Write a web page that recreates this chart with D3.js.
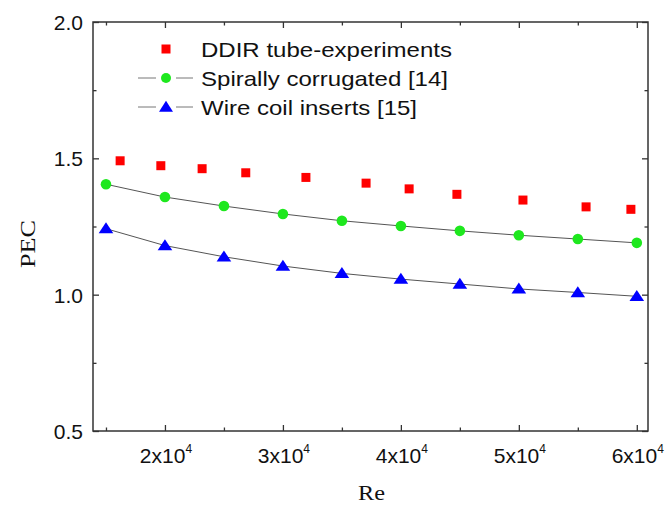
<!DOCTYPE html>
<html>
<head>
<meta charset="utf-8">
<script src="https://cdn.jsdelivr.net/npm/d3@7"></script>
<style>
  body { margin: 0; background: #fff; }
  svg { display: block; }
</style>
</head>
<body>
<svg id="chart" width="666" height="505"></svg>
<script>
// data
const reGrid = [15000, 20000, 25000, 30000, 35000, 40000, 45000, 50000, 55000, 60000];
const spirallyPEC = [1.405, 1.358, 1.325, 1.296, 1.271, 1.252, 1.234, 1.218, 1.204, 1.190];
const wirePEC = [1.242, 1.180, 1.139, 1.105, 1.078, 1.057, 1.039, 1.021, 1.008, 0.994];
const ddirRe = [16200, 19650, 23150, 26850, 31950, 37050, 40700, 44750, 50350, 55700, 59500];
const ddirPEC = [1.491, 1.473, 1.462, 1.447, 1.430, 1.409, 1.388, 1.368, 1.347, 1.322, 1.313];
const xMajor = [20000, 30000, 40000, 50000, 60000];
const xMinor = [15000, 25000, 35000, 45000, 55000];
const yMajor = [0.5, 1.0, 1.5, 2.0];
const yMinor = [0.75, 1.25, 1.75];
const legendLabels = ["DDIR tube-experiments", "Spirally corrugated [14]", "Wire coil inserts [15]"];
const legendWidths = [251, 247, 216];

const svg = d3.select("#chart");
const W = 666, H = 505;
const margin = {top: 22, right: 18, bottom: 74, left: 93};

const x = d3.scaleLinear([13900, 60950], [margin.left, W - margin.right]);
const y = d3.scaleLinear([0.5, 2.0], [H - margin.bottom, margin.top]);

const axisColor = "#333";
const sans = "'Liberation Sans', Arial, sans-serif";
const serif = "'Liberation Serif', 'Times New Roman', serif";

// frame
svg.append("rect")
    .attr("x", x.range()[0]).attr("y", y.range()[1])
    .attr("width", x.range()[1] - x.range()[0])
    .attr("height", y.range()[0] - y.range()[1])
    .attr("fill", "none").attr("stroke", axisColor).attr("stroke-width", 1.5);

function ticks(axis, vals, size, transform) {
  const g = svg.append("g").attr("transform", transform)
      .call(axis.tickValues(vals).tickSizeInner(-size).tickSizeOuter(0).tickFormat(""));
  g.select(".domain").remove();
  g.selectAll(".tick line").attr("stroke", axisColor).attr("stroke-width", 1.3);
}
const yb = y.range()[0], yt = y.range()[1], xl = x.range()[0], xr = x.range()[1];
ticks(d3.axisBottom(x), xMajor, 6, `translate(0,${yb})`);
ticks(d3.axisBottom(x), xMinor, 3.5, `translate(0,${yb})`);
ticks(d3.axisTop(x), xMajor, 6, `translate(0,${yt})`);
ticks(d3.axisTop(x), xMinor, 3.5, `translate(0,${yt})`);
ticks(d3.axisLeft(y), yMajor, 6, `translate(${xl},0)`);
ticks(d3.axisLeft(y), yMinor, 3.5, `translate(${xl},0)`);
ticks(d3.axisRight(y), yMajor, 6, `translate(${xr},0)`);
ticks(d3.axisRight(y), yMinor, 3.5, `translate(${xr},0)`);

// tick labels
svg.append("g").selectAll("text").data(yMajor).join("text")
    .attr("x", xl - 10).attr("y", d => y(d) + 8)
    .attr("text-anchor", "end")
    .attr("font-family", sans).attr("font-size", 21).attr("fill", "#111")
    .text(d => d.toFixed(1));
xMajor.forEach(v => {
  const t = svg.append("text")
      .attr("x", x(v) + 1).attr("y", yb + 32)
      .attr("text-anchor", "middle")
      .attr("font-family", sans).attr("font-size", 21).attr("fill", "#111");
  t.append("tspan").text(`${v / 10000}x10`);
  t.append("tspan").attr("dy", -10).attr("font-size", 12).text("4");
});

// axis titles
svg.append("text")
    .attr("transform", `translate(35,244) rotate(-90)`)
    .attr("text-anchor", "middle")
    .attr("font-family", serif).attr("font-size", 22).attr("fill", "#111")
    .attr("textLength", 48).attr("lengthAdjust", "spacingAndGlyphs")
    .text("PEC");
svg.append("text")
    .attr("x", 358).attr("y", 500)
    .attr("font-family", serif).attr("font-size", 20).attr("fill", "#111")
    .attr("textLength", 27).attr("lengthAdjust", "spacingAndGlyphs")
    .text("Re");

// lines
const line = d3.line().x((d, i) => x(reGrid[i])).y(d => y(d));
[spirallyPEC, wirePEC].forEach(s => {
  svg.append("path").attr("d", line(s))
    .attr("fill", "none").attr("stroke", "#555").attr("stroke-width", 1);
});

const red = "#ff0000", green = "#1ee81e", blue = "#0000ff";
const tri = d3.symbol(d3.symbolTriangle, 70);

svg.append("g").selectAll("rect").data(ddirPEC).join("rect")
    .attr("x", (d, i) => x(ddirRe[i]) - 4.5).attr("y", d => y(d) - 4.5)
    .attr("width", 9).attr("height", 9).attr("fill", red);
svg.append("g").selectAll("circle").data(spirallyPEC).join("circle")
    .attr("cx", (d, i) => x(reGrid[i])).attr("cy", d => y(d))
    .attr("r", 5.3).attr("fill", green);
svg.append("g").selectAll("path").data(wirePEC).join("path")
    .attr("d", tri)
    .attr("transform", (d, i) => `translate(${x(reGrid[i])},${y(d) + 1}) scale(1.15,1)`)
    .attr("fill", blue);

// legend
const lgX = 166, lgY = [49, 78, 107];
const lg = svg.append("g");
lg.append("rect").attr("x", lgX - 4.5).attr("y", lgY[0] - 4.5)
    .attr("width", 9).attr("height", 9).attr("fill", red);
[1, 2].forEach(i => {
  lg.append("line").attr("x1", 138).attr("x2", 156).attr("y1", lgY[i]).attr("y2", lgY[i])
    .attr("stroke", "#777").attr("stroke-width", 1);
  lg.append("line").attr("x1", 176).attr("x2", 193).attr("y1", lgY[i]).attr("y2", lgY[i])
    .attr("stroke", "#777").attr("stroke-width", 1);
});
lg.append("circle").attr("cx", lgX).attr("cy", lgY[1]).attr("r", 5).attr("fill", green);
lg.append("path").attr("d", tri)
    .attr("transform", `translate(${lgX},${lgY[2] + 1}) scale(1.1,1)`).attr("fill", blue);
legendLabels.forEach((t, i) => {
  lg.append("text")
      .attr("x", 201).attr("y", lgY[i] + 8)
      .attr("font-family", sans).attr("font-size", 21).attr("fill", "#111")
      .attr("textLength", legendWidths[i]).attr("lengthAdjust", "spacingAndGlyphs")
      .text(t);
});
</script>
</body>
</html>
